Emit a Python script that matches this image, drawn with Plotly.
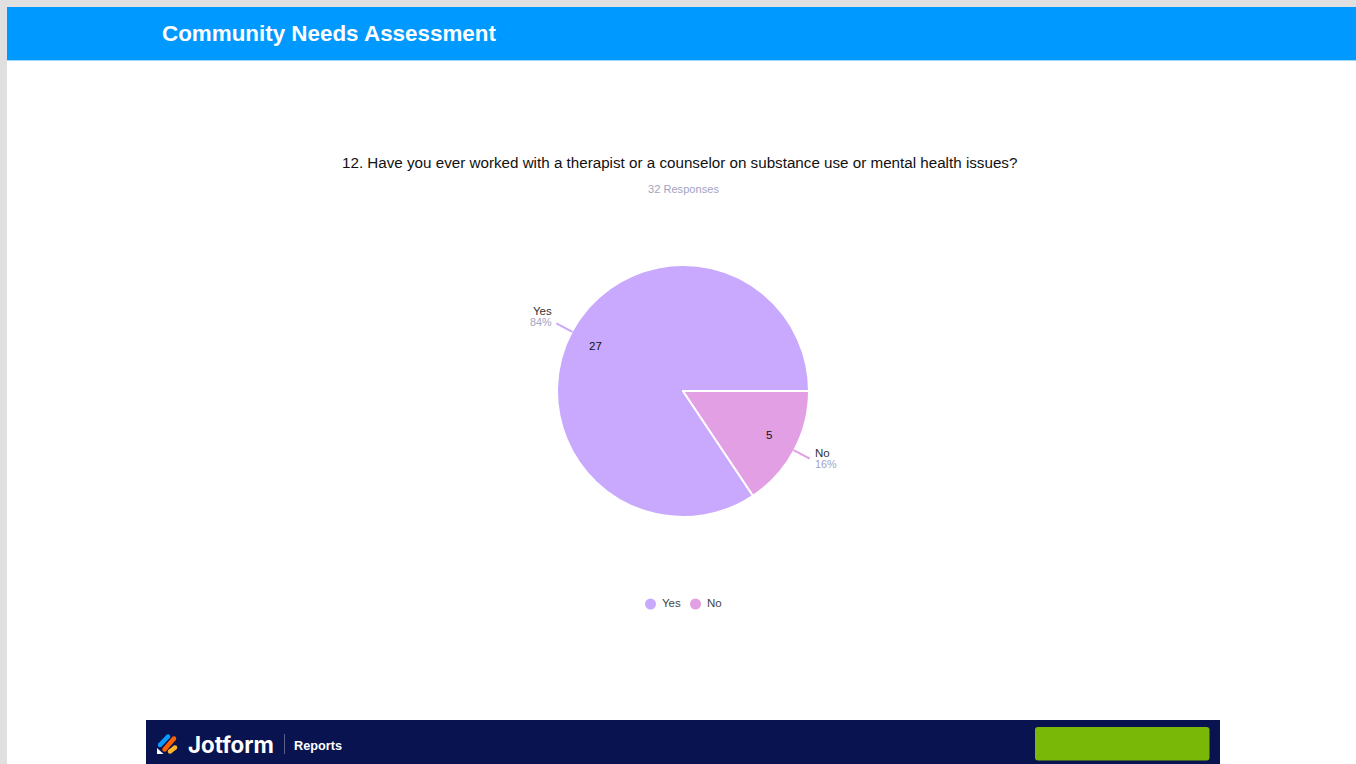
import math
import plotly.graph_objects as go

categories = ["Yes", "No"]
values = [27, 5]
percent_labels = ["84%", "16%"]
slice_colors = ["#C8A9FE", "#E29FE3"]
page_title = "Community Needs Assessment"
question = "12. Have you ever worked with a therapist or a counselor on substance use or mental health issues?"
responses = "32 Responses"

W, H = 1356, 764
FONT = "Liberation Sans"
CX, CY, R = 683, 391, 126


def px(x):
    return x / W


def py(y):
    return 1 - y / H


def rect(x0, y0, x1, y1, color):
    return dict(type="rect", xref="paper", yref="paper", x0=px(x0), x1=px(x1),
                y0=py(y0), y1=py(y1), fillcolor=color, line_width=0, layer="below")


def rounded(x0, y0, x1, y1, r, color):
    p = (f"M{px(x0 + r)},{py(y0)} L{px(x1 - r)},{py(y0)} Q{px(x1)},{py(y0)} {px(x1)},{py(y0 + r)} "
         f"L{px(x1)},{py(y1 - r)} Q{px(x1)},{py(y1)} {px(x1 - r)},{py(y1)} "
         f"L{px(x0 + r)},{py(y1)} Q{px(x0)},{py(y1)} {px(x0)},{py(y1 - r)} "
         f"L{px(x0)},{py(y0 + r)} Q{px(x0)},{py(y0)} {px(x0 + r)},{py(y0)} Z")
    return dict(type="path", xref="paper", yref="paper", path=p, fillcolor=color, line_width=0)


def seg(x0, y0, x1, y1, color, width):
    return dict(type="line", xref="paper", yref="paper", x0=px(x0), x1=px(x1),
                y0=py(y0), y1=py(y1), line=dict(color=color, width=width))


def dot(x, y, r, color):
    return dict(type="circle", xref="paper", yref="paper", x0=px(x - r), x1=px(x + r),
                y0=py(y - r), y1=py(y + r), fillcolor=color, line_width=0)


def capsule(x0, y0, x1, y1, color, width):
    return [seg(x0, y0, x1, y1, color, width),
            dot(x0, y0, width / 2, color), dot(x1, y1, width / 2, color)]


def text(x, y, s, size, color, anchor="center", bold=False, family=FONT):
    return dict(xref="paper", yref="paper", x=px(x), y=py(y), text=f"<b>{s}</b>" if bold else s,
                showarrow=False, xanchor=anchor, yanchor="middle",
                font=dict(family=family, size=size, color=color))


total = sum(values)
# "No" begins at 3 o'clock and runs clockwise; "Yes" takes the rest.
start = 90 + values[1] / total * 360

fig = go.Figure(go.Pie(
    labels=categories, values=values, sort=False, direction="clockwise", rotation=start,
    marker=dict(colors=slice_colors, line=dict(color="white", width=2)),
    textinfo="none", hoverinfo="label+value+percent", showlegend=False,
    domain=dict(x=[px(CX - R), px(CX + R)], y=[py(CY + R), py(CY - R)]),
))

shapes = [
    rect(0, 0, W, 7, "#E0E0E0"),
    rect(0, 0, 7, H, "#E0E0E0"),
    rect(7, 7, W, 60, "#0099FF"),
    rect(7, 60, W, 61, "#9BD6FB"),
    rect(146, 720, 1220, H, "#08134F"),
    rounded(1035, 727, 1209.5, 760.5, 3, "#7AB807"),
    seg(284.5, 734, 284.5, 754, "#5A628C", 1),
    dict(type="path", xref="paper", yref="paper", fillcolor="#FFFFFF", line_width=0,
         path=f"M{px(157)},{py(748)} L{px(163.5)},{py(754)} L{px(157)},{py(754)} Z"),
]
# logo
shapes += capsule(160, 745, 168, 736.5, "#0A9BFF", 4.5)
shapes += capsule(164.5, 749.5, 174, 738.5, "#FF6100", 4.5)
shapes += capsule(170, 751.5, 175, 747.5, "#FFB629", 4.5)

annotations = [
    text(160, 33.5, page_title, 22.4, "#FFFFFF", "left", True),
    text(679, 162.6, question, 15.2, "#111111"),
    text(683, 189, responses, 11.1, "#A3A3C2"),
    text(186, 744.5, "Jotform", 22.3, "#FFFFFF", "left", True, "Inter"),
    text(292, 745.5, "Reports", 12.7, "#FFFFFF", "left", True),
]

# Labels and leader lines follow each slice's mid-angle.
angle = start
label_pos = {"Yes": (542, 311, 540.5, 322), "No": (822, 452.5, 825.5, 464)}
value_nudge = {"Yes": (0, 1.5), "No": (-2, -3)}
for name, val, pct, col in zip(categories, values, percent_labels, slice_colors):
    mid = math.radians(angle + val / total * 180)
    angle += val / total * 360
    dx, dy = math.sin(mid), -math.cos(mid)
    nx, ny = value_nudge[name]
    annotations.append(text(CX + dx * 0.79 * R + nx, CY + dy * 0.79 * R + ny, str(val), 11.5, "#111111"))
    shapes.append(seg(CX + dx * 0.995 * R, CY + dy * 0.995 * R,
                      CX + dx * 1.14 * R, CY + dy * 1.14 * R, col, 2))
    lx, ly, px2, py2 = label_pos[name]
    annotations.append(text(lx, ly, name, 11.5, "#333333"))
    annotations.append(text(px2, py2, pct, 10.8, "#A3A3C2"))

# Legend
for (mx, tx), name, col in zip([(650.5, 660), (695.5, 705)], categories, slice_colors):
    shapes.append(dot(mx, 604, 5.5, col))
    annotations.append(text(tx, 602.8, name, 11.5, "#444444", "left"))

fig.update_layout(
    width=W, height=H, margin=dict(l=0, r=0, t=0, b=0), autosize=False,
    paper_bgcolor="white", plot_bgcolor="white", shapes=shapes, annotations=annotations,
    font=dict(family=FONT),
)
fig.write_html("out.html", config=dict(displayModeBar=False),
               post_script="document.body.style.margin='0';document.body.style.overflow='hidden';")
